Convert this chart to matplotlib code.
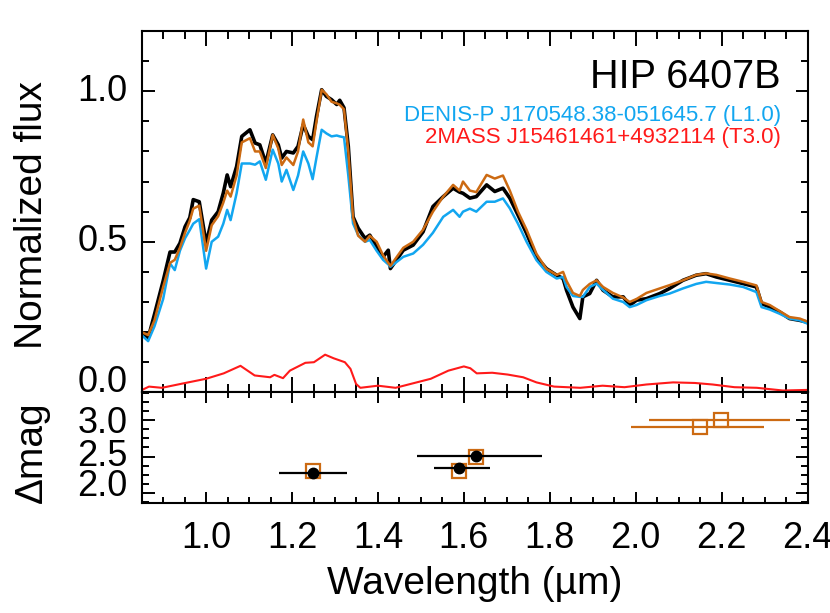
import matplotlib
matplotlib.use('Agg')
import matplotlib.pyplot as plt
from matplotlib.ticker import MultipleLocator

plt.rcParams['font.family'] = ['Liberation Sans', 'DejaVu Sans']

# wavelength grid (micron) shared by the three spectra
wave = [0.850, 0.865, 0.880, 0.900, 0.916, 0.927, 0.939, 0.951, 0.962, 0.970,
        0.984, 1.000, 1.013, 1.028, 1.040, 1.049, 1.057, 1.071, 1.083, 1.102,
        1.114, 1.125, 1.139, 1.155, 1.168, 1.176, 1.187, 1.203, 1.214, 1.226,
        1.238, 1.248, 1.257, 1.269, 1.280, 1.292, 1.304, 1.311, 1.321, 1.331,
        1.342, 1.354, 1.370, 1.381, 1.397, 1.412, 1.424, 1.429, 1.459, 1.482,
        1.505, 1.528, 1.552, 1.575, 1.590, 1.598, 1.614, 1.629, 1.653, 1.672,
        1.691, 1.707, 1.726, 1.746, 1.769, 1.792, 1.816, 1.831, 1.839, 1.854,
        1.870, 1.877, 1.893, 1.909, 1.924, 1.947, 1.971, 1.986, 2.002, 2.025,
        2.056, 2.079, 2.110, 2.141, 2.164, 2.188, 2.219, 2.250, 2.281, 2.293,
        2.312, 2.335, 2.358, 2.382, 2.400]

# HIP 6407B
flux_obj = [0.20, 0.18, 0.26, 0.37, 0.466, 0.466, 0.495, 0.55, 0.58, 0.64,
            0.633, 0.495, 0.572, 0.60, 0.662, 0.722, 0.683, 0.75, 0.85, 0.872,
            0.828, 0.822, 0.761, 0.855, 0.822, 0.778, 0.80, 0.795, 0.817, 0.889,
            0.85, 0.839, 0.917, 1.005, 0.983, 0.972, 0.956, 0.97, 0.945, 0.817,
            0.583, 0.545, 0.511, 0.522, 0.483, 0.45, 0.472, 0.411, 0.472, 0.489,
            0.533, 0.617, 0.65, 0.678, 0.665, 0.661, 0.645, 0.65, 0.689, 0.667,
            0.678, 0.645, 0.589, 0.528, 0.45, 0.411, 0.389, 0.378, 0.339, 0.283,
            0.245, 0.317, 0.328, 0.372, 0.339, 0.317, 0.317, 0.289, 0.306, 0.311,
            0.328, 0.345, 0.372, 0.389, 0.394, 0.383, 0.372, 0.361, 0.35, 0.295,
            0.283, 0.267, 0.245, 0.239, 0.233]

# best-fit composite (orange)
flux_fit = [0.20, 0.19, 0.24, 0.35, 0.43, 0.44, 0.48, 0.53, 0.57, 0.61,
            0.62, 0.47, 0.555, 0.585, 0.63, 0.67, 0.65, 0.72, 0.83, 0.844,
            0.80, 0.80, 0.745, 0.855, 0.81, 0.755, 0.78, 0.755, 0.80, 0.906,
            0.83, 0.817, 0.90, 1.005, 0.99, 0.965, 0.96, 0.955, 0.94, 0.80,
            0.58, 0.52, 0.50, 0.52, 0.50, 0.455, 0.43, 0.42, 0.48, 0.50,
            0.54, 0.60, 0.65, 0.689, 0.67, 0.70, 0.67, 0.665, 0.722, 0.71,
            0.72, 0.67, 0.60, 0.54, 0.46, 0.41, 0.39, 0.40, 0.37, 0.33,
            0.32, 0.34, 0.36, 0.372, 0.35, 0.33, 0.315, 0.30, 0.31, 0.33,
            0.345, 0.356, 0.372, 0.39, 0.395, 0.39, 0.378, 0.367, 0.355, 0.30,
            0.29, 0.27, 0.25, 0.245, 0.235]

# DENIS-P J170548.38-051645.7 (L1.0)
flux_prim = [0.19, 0.17, 0.22, 0.31, 0.428, 0.406, 0.47, 0.512, 0.539, 0.56,
             0.575, 0.411, 0.50, 0.517, 0.56, 0.606, 0.572, 0.661, 0.76, 0.76,
             0.756, 0.767, 0.706, 0.806, 0.76, 0.70, 0.739, 0.672, 0.72, 0.80,
             0.76, 0.708, 0.78, 0.872, 0.86, 0.85, 0.853, 0.85, 0.847, 0.72,
             0.561, 0.522, 0.50, 0.506, 0.47, 0.44, 0.425, 0.417, 0.45, 0.461,
             0.49, 0.53, 0.583, 0.606, 0.583, 0.60, 0.61, 0.60, 0.633, 0.633,
             0.644, 0.611, 0.56, 0.50, 0.439, 0.40, 0.378, 0.383, 0.35, 0.32,
             0.317, 0.317, 0.35, 0.361, 0.34, 0.311, 0.30, 0.283, 0.29, 0.306,
             0.32, 0.328, 0.345, 0.36, 0.367, 0.363, 0.358, 0.35, 0.333, 0.283,
             0.275, 0.261, 0.245, 0.239, 0.228]

# 2MASS J15461461+4932114 (T3.0)
wave_sec = [0.851, 0.867, 0.897, 0.948, 1.000, 1.041, 1.080, 1.113, 1.149, 1.159,
            1.179, 1.195, 1.231, 1.251, 1.277, 1.297, 1.323, 1.336, 1.349, 1.359,
            1.400, 1.441, 1.482, 1.523, 1.564, 1.600, 1.615, 1.630, 1.666, 1.702,
            1.738, 1.769, 1.810, 1.871, 1.923, 1.974, 2.025, 2.087, 2.138, 2.179,
            2.230, 2.282, 2.343, 2.400]
flux_sec = [0.008, 0.019, 0.015, 0.030, 0.045, 0.063, 0.088, 0.056, 0.050, 0.058,
            0.047, 0.072, 0.098, 0.100, 0.125, 0.113, 0.100, 0.078, 0.028, 0.015,
            0.022, 0.015, 0.030, 0.045, 0.072, 0.086, 0.080, 0.063, 0.065, 0.059,
            0.050, 0.033, 0.019, 0.015, 0.022, 0.017, 0.026, 0.033, 0.031, 0.026,
            0.017, 0.015, 0.006, 0.008]

# photometric contrasts, observed (black)
obs_wave = [1.249, 1.589, 1.629]
obs_wlo = [1.170, 1.530, 1.490]
obs_whi = [1.329, 1.660, 1.781]
obs_dmag = [2.27, 2.34, 2.51]

# synthetic contrasts from the fit (orange)
syn_wave = [1.249, 1.589, 1.629, 2.149, 2.199]
syn_dmag = [2.31, 2.31, 2.50, 2.91, 3.00]
# filter widths for the K-band values only (J/H share the black bars)
kband_wave = [2.149, 2.199]
kband_wlo = [1.990, 2.031]
kband_whi = [2.299, 2.360]
kband_dmag = [2.91, 3.00]

blue = '#12A6F0'
orange = '#CC6A12'
red = '#FF1A1A'

fig = plt.figure(figsize=(8.3, 6.13), dpi=100)
ax1 = fig.add_axes([0.1707, 0.36, 0.8022, 0.5894])
ax2 = fig.add_axes([0.1707, 0.18, 0.8022, 0.18])

# spectra
ax1.plot(wave, flux_obj, color='black', lw=2.6)
ax1.plot(wave, flux_prim, color=blue, lw=1.8)
ax1.plot(wave, flux_fit, color=orange, lw=1.8)
ax1.plot(wave_sec, flux_sec, color=red, lw=1.5)

ax1.text(0.96, 0.873, 'HIP 6407B', transform=ax1.transAxes, ha='right', va='center', fontsize=28.5)
ax1.text(0.96, 0.765, 'DENIS-P J170548.38-051645.7 (L1.0)', transform=ax1.transAxes,
         ha='right', va='center', fontsize=16, color=blue)
ax1.text(0.96, 0.704, '2MASS J15461461+4932114 (T3.0)', transform=ax1.transAxes,
         ha='right', va='center', fontsize=16, color=red)

ax1.set_xlim(0.85, 2.4)
ax1.set_ylim(0, 1.2)
ax1.xaxis.set_major_locator(MultipleLocator(0.2))
ax1.xaxis.set_minor_locator(MultipleLocator(0.05))
ax1.set_yticks([0.0, 0.5, 1.0])
ax1.yaxis.set_minor_locator(MultipleLocator(0.1))
ax1.set_xticklabels([])
ax1.set_yticklabels([])
ax1.tick_params(which='both', direction='in', top=True, right=True, width=1.4)
ax1.tick_params(axis='x', which='major', length=10.5)
ax1.tick_params(axis='x', which='minor', length=5.5)
ax1.tick_params(axis='y', which='major', length=9)
ax1.tick_params(axis='y', which='minor', length=5)
ax1.set_ylabel('Normalized flux', fontsize=28)
ax1.yaxis.set_label_coords(-0.138, 0.49)

# contrasts
ax2.hlines(kband_dmag, kband_wlo, kband_whi, color=orange, lw=1.6)
ax2.plot(syn_wave, syn_dmag, 's', ms=9.5, mfc='none', mec=orange, mew=1.6)
ax2.errorbar(obs_wave, obs_dmag,
             xerr=[[w - lo for w, lo in zip(obs_wave, obs_wlo)],
                   [hi - w for w, hi in zip(obs_wave, obs_whi)]],
             fmt='o', ms=7.5, color='black', elinewidth=1.6, capsize=0)

ax2.set_xlim(0.85, 2.4)
ax2.set_ylim(1.87, 3.38)
ax2.xaxis.set_minor_locator(MultipleLocator(0.05))
ax2.set_yticks([2.0, 2.5, 3.0])
ax2.yaxis.set_minor_locator(MultipleLocator(0.125))
ax2.set_yticklabels([])
ax2.tick_params(which='both', direction='in', top=True, right=True, width=1.4)
ax2.tick_params(axis='x', which='major', length=8, pad=13, labelsize=26)
ax2.tick_params(axis='x', which='minor', length=4.5)
ax2.tick_params(axis='y', which='major', length=9)
ax2.tick_params(axis='y', which='minor', length=5)
ax2.set_xticks([1.0, 1.2, 1.4, 1.6, 1.8, 2.0, 2.2, 2.4])
ax2.set_xticklabels(['1.0', '1.2', '1.4', '1.6', '1.8', '2.0', '2.2', '2.4'])
ax2.set_xlabel('Wavelength (\u00b5m)', fontsize=28)
ax2.xaxis.set_label_coords(0.5, -0.57)
ax2.set_ylabel('\u0394mag', fontsize=28)
ax2.yaxis.set_label_coords(-0.138, 0.46)

# y tick labels, placed as in the original layout (crowded in the lower panel)
for val, dy in [(0.0, 7.0), (0.5, 0.0), (1.0, 0.0)]:
    ax1.annotate(f'{val:.1f}', xy=(0, val), xycoords=('axes fraction', 'data'),
                 xytext=(-10, dy), textcoords='offset points',
                 ha='right', va='center', fontsize=26)
for val, dy in [(2.0, 4.5), (2.5, 0.0), (3.0, -2.5)]:
    ax2.annotate(f'{val:.1f}', xy=(0, val), xycoords=('axes fraction', 'data'),
                 xytext=(-10, dy), textcoords='offset points',
                 ha='right', va='center', fontsize=26)

for ax in (ax1, ax2):
    for s in ax.spines.values():
        s.set_linewidth(1.5)

fig.savefig('out.png', dpi=100)
